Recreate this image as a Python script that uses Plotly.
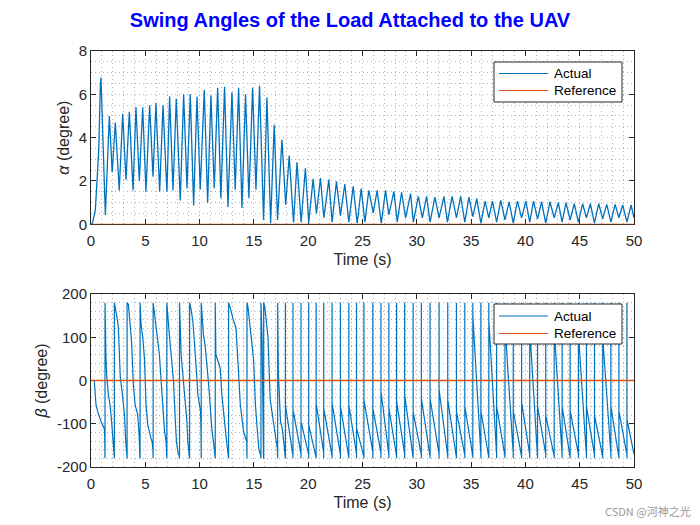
import plotly.graph_objects as go

# ---------------- data ----------------
# alpha (degree): start-up rise, then oscillation peaks / troughs
alpha_start_t = [0.0, 0.12, 0.40, 0.55, 0.71, 0.86]
alpha_start_v = [0.0, 0.03, 0.66, 1.75, 3.40, 6.40]

alpha_peak_t = [0.92, 1.69, 2.24, 2.92, 3.53, 4.14, 4.76, 5.40, 5.98, 6.63,
                7.24, 7.85, 8.53, 9.14, 9.76, 10.43, 11.04, 11.66, 12.30, 12.98,
                13.59, 14.23, 14.88, 15.52, 16.20, 16.87, 17.58, 18.25, 18.97, 19.74,
                20.45, 21.13, 21.90, 22.60, 23.37, 24.14, 24.88, 25.58, 26.35, 27.12,
                27.89, 28.60, 29.43, 30.14, 30.90, 31.67, 32.50, 33.25, 34.04, 34.80,
                35.52, 36.29, 36.97, 37.73, 38.50, 39.27, 40.04, 40.75, 41.49, 42.26,
                43.03, 43.74, 44.50, 45.27, 45.98, 46.75, 47.49, 48.26, 48.96, 49.73]
alpha_peak_v = [6.77, 5.00, 4.70, 5.10, 5.20, 5.40, 5.40, 5.50, 5.60, 5.50,
                5.90, 5.80, 6.00, 6.00, 5.90, 6.20, 5.95, 6.30, 6.35, 6.10,
                6.30, 6.00, 6.30, 6.40, 5.85, 4.60, 3.90, 3.17, 2.86, 2.59,
                2.10, 2.13, 2.06, 1.98, 1.86, 1.75, 1.65, 1.57, 1.57, 1.57,
                1.52, 1.48, 1.42, 1.29, 1.29, 1.25, 1.29, 1.29, 1.29, 1.25,
                1.19, 1.07, 1.07, 1.10, 1.04, 1.07, 1.07, 1.07, 1.04, 1.04,
                1.00, 1.00, 0.95, 0.95, 0.95, 0.95, 0.92, 0.92, 0.89, 0.89]

alpha_trough_t = [1.32, 1.95, 2.60, 3.22, 3.87, 4.45, 5.06, 5.71, 6.32, 6.99,
                  7.55, 8.22, 8.84, 9.45, 10.06, 10.74, 11.35, 11.96, 12.61, 13.28,
                  13.90, 14.54, 15.19, 15.89, 16.54, 17.18, 17.93, 18.65, 19.35, 20.05,
                  20.76, 21.44, 22.20, 22.97, 23.74, 24.51, 25.22, 25.99, 26.73, 27.43,
                  28.20, 28.97, 29.68, 30.51, 31.22, 32.05, 32.82, 33.65, 34.42, 35.16,
                  35.90, 36.63, 37.35, 38.12, 38.88, 39.65, 40.40, 41.12, 41.87, 42.65,
                  43.38, 44.12, 44.88, 45.62, 46.36, 47.12, 47.87, 48.61, 49.35, 50.00]
alpha_trough_v = [0.43, 2.40, 1.56, 2.06, 1.56, 2.00, 1.50, 2.20, 1.50, 1.50,
                  1.56, 1.10, 1.67, 0.87, 1.60, 1.00, 1.67, 1.20, 0.80, 1.60,
                  0.75, 1.20, 1.60, 0.20, 0.05, 0.20, 0.90, 0.08, 0.08, 0.08,
                  0.50, 0.30, 0.10, 0.40, 0.10, 0.05, 0.10, 0.53, 0.05, 0.45,
                  0.10, 0.30, 0.10, 0.30, 0.10, 0.30, 0.10, 0.30, 0.10, 0.35,
                  0.05, 0.30, 0.10, 0.20, 0.05, 0.30, 0.10, 0.25, 0.05, 0.30,
                  0.10, 0.20, 0.10, 0.30, 0.05, 0.25, 0.10, 0.30, 0.10, 0.30]

# beta (degree): first 18 s read point by point (wraps at +/-180 included)
beta_early_t = [0.00, 0.30, 0.37, 0.46, 0.62, 0.77, 0.92, 1.08, 1.25, 1.29, 1.29,
                1.38, 1.45, 1.60, 1.75, 1.90, 2.00, 2.12, 2.15, 2.15,
                2.25, 2.40, 2.52, 2.70, 2.86, 2.98, 3.08, 3.20, 3.30, 3.32, 3.32,
                3.44, 3.63, 3.75, 3.90, 4.06, 4.30, 4.43, 4.50, 4.52, 4.52,
                4.61, 4.77, 4.92, 5.07, 5.23, 5.53, 5.63, 5.70, 5.72, 5.72,
                5.84, 6.15, 6.30, 6.46, 6.61, 6.77, 6.92, 6.96, 6.98, 6.98,
                7.13, 7.29, 7.44, 7.60, 7.75, 7.87, 8.00, 8.12, 8.15, 8.15,
                8.30, 8.52, 8.67, 8.83, 8.92, 9.05, 9.08, 9.08,
                9.22, 9.38, 9.53, 9.69, 9.84, 10.00, 10.09, 10.13, 10.15, 10.15,
                10.20, 10.35, 10.50, 10.66, 10.81, 10.97, 11.12, 11.28, 11.42, 11.44, 11.44,
                11.50, 11.75, 11.90, 12.05, 12.20, 12.36, 12.52, 12.65, 12.67, 12.67,
                12.80, 13.10, 13.35, 13.44, 13.60, 13.75, 13.90, 14.05, 14.20, 14.34, 14.36, 14.36,
                14.45, 14.60, 14.83, 14.98, 15.14, 15.30, 15.45, 15.62, 15.65, 15.65,
                15.75, 15.88, 15.90, 15.90,
                16.00, 16.30, 16.50, 16.66, 16.82, 16.97, 17.16, 17.19, 17.19,
                17.25, 17.45, 17.60, 17.75, 17.88]
beta_early_v = [0, 0, -25, -56, -72, -87, -95, -103, -114, -180, 180,
                52, 10, -33, -56, -95, -138, -179, -180, 180,
                168, 145, 122, 6, -25, -48, -79, -141, -178, -180, 180,
                176, 122, 83, -10, -56, -79, -126, -179, -180, 180,
                130, 98, 52, -56, -103, -134, -142, -160, -180, 180,
                153, 98, 60, -2, -56, -118, -142, -170, -180, 180,
                122, 83, 44, -2, -87, -142, -165, -173, -180, 180,
                60, -2, -56, -95, -142, -179, -180, 180,
                164, 137, 91, 29, -33, -56, -72, -120, -180, 180,
                153, 106, 83, 44, -2, -56, -110, -142, -170, -180, 180,
                60, 40, 28, -33, -64, -110, -149, -179, -180, 180,
                170, 140, 122, 83, -2, -56, -87, -118, -130, -142, -180, 180,
                170, 140, 83, 44, -56, -110, -157, -173, -180, 180,
                100, -170, -180, 180,
                170, 100, -45, -72, -95, -126, -157, -180, 180,
                20, -95, -110, -142, -179]

# beta after 17.9 s: wrap instants, value just after the wrap, value before next wrap
beta_wrap_t = [17.90, 18.60, 19.34, 20.05, 20.73, 21.43, 22.20, 22.97, 23.74, 24.45,
               25.13, 25.95, 26.70, 27.43, 28.14, 28.88, 29.66, 30.42, 31.22, 32.05,
               32.85, 33.65, 34.42, 35.16, 35.90, 36.63, 37.35, 38.12, 38.88, 39.65,
               40.40, 41.12, 41.87, 42.65, 43.38, 44.12, 44.88, 45.62, 46.36, 47.12,
               47.87, 48.61, 49.35]
beta_knee_v = [-56, -67, -95, -103, -52, -64, -52, -60, -56, -110,
               -45, -64, -25, -64, -48, -33, -72, -41, -41, -21,
               -45, -72, -60, 150, -70, 140, -60, 130, -70, -50,
               120, -60, -80, 120, -60, -70, 110, -60, -80, 100,
               -60, -70, -90]
beta_end_v = [-175, -170, -172, -178, -168, -175, -172, -178, -170, -176,
              -165, -168, -172, -175, -170, -178, -172, -176, -170, -175,
              -178, -172, -175, -170, -178, -172, -175, -170, -176, -172,
              -178, -170, -175, -172, -178, -170, -175, -172, -176, -170,
              -178, -172, -170]
t_end = 50.0

x_tickvals = [0, 5, 10, 15, 20, 25, 30, 35, 40, 45, 50]
x_ticktext = ["0", "5", "10", "15", "20", "25", "30", "35", "40", "45", "50"]
a_tickvals = [0, 2, 4, 6, 8]
a_ticktext = ["0", "2", "4", "6", "8"]
b_tickvals = [-200, -100, 0, 100, 200]
b_ticktext = ["-200", "-100", "0", "100", "200"]
legend_labels = ["Actual", "Reference"]

# ---------------- build series ----------------
alpha_pts = list(zip(alpha_start_t, alpha_start_v)) + \
    list(zip(alpha_peak_t, alpha_peak_v)) + list(zip(alpha_trough_t, alpha_trough_v))
alpha_pts.sort(key=lambda p: p[0])
alpha_t = [p[0] for p in alpha_pts]
alpha_v = [p[1] for p in alpha_pts]

beta_t = list(beta_early_t)
beta_v = list(beta_early_v)
for i, tw in enumerate(beta_wrap_t):
    t_next = beta_wrap_t[i + 1] if i + 1 < len(beta_wrap_t) else t_end
    beta_t += [tw, tw, tw, t_next]
    beta_v += [-180, 180, beta_knee_v[i], beta_end_v[i]]

BLUE = "#0072BD"
ORANGE = "#D95319"
AX = "#262626"
FONT = "Liberation Sans, Arial, sans-serif"

fig = go.Figure()
fig.add_trace(go.Scatter(x=alpha_t, y=alpha_v, mode="lines", name=legend_labels[0],
                         line=dict(color=BLUE, width=1.3), xaxis="x", yaxis="y"))
fig.add_trace(go.Scatter(x=[0, t_end], y=[0, 0], mode="lines", name=legend_labels[1],
                         line=dict(color=ORANGE, width=1.3), xaxis="x", yaxis="y",
                         cliponaxis=False))
fig.add_trace(go.Scatter(x=beta_t, y=beta_v, mode="lines", name=legend_labels[0],
                         line=dict(color=BLUE, width=1.2), xaxis="x2", yaxis="y2"))
fig.add_trace(go.Scatter(x=[0, t_end], y=[0, 0], mode="lines", name=legend_labels[1],
                         line=dict(color=ORANGE, width=1.3), xaxis="x2", yaxis="y2"))

grid = dict(showgrid=True, gridcolor="#b2b2b2", griddash="1px,3px", gridwidth=1)
common = dict(showline=True, linecolor=AX, linewidth=1, mirror="ticks",
              ticks="inside", ticklen=5, tickcolor=AX, zeroline=False,
              tickfont=dict(family=FONT, size=15, color=AX), layer="below traces",
              **grid)
title_font = dict(family=FONT, size=16, color=AX)

# ---- legend boxes drawn in pixel positions of the reference ----
W, H = 700, 525
L, R, T, B = 91, 66, 51, 58
PW, PH = W - L - R, H - T - B


def px(x):
    return (x - L) / PW


def py(y):
    return (H - B - y) / PH


shapes = []
annotations = []
for (top, bot, rows) in [(62, 102, (73.5, 90.5)), (304, 344, (316, 333.5))]:
    shapes.append(dict(type="rect", xref="paper", yref="paper",
                       x0=px(494), x1=px(622), y0=py(bot), y1=py(top),
                       fillcolor="white", line=dict(color=AX, width=1), layer="above"))
    for color, label, yy in zip([BLUE, ORANGE], legend_labels, rows):
        shapes.append(dict(type="line", xref="paper", yref="paper",
                           x0=px(499), x1=px(548), y0=py(yy), y1=py(yy),
                           line=dict(color=color, width=1), layer="above"))
        annotations.append(dict(text=label, xref="paper", yref="paper",
                                x=px(552), y=py(yy), xanchor="left", yanchor="middle",
                                showarrow=False,
                                font=dict(family=FONT, size=13.5, color="#000000")))

annotations.append(dict(text="CSDN @河神之光", xref="paper", yref="paper",
                        x=px(693), y=py(511), xanchor="right", yanchor="middle",
                        showarrow=False,
                        font=dict(family="Noto Sans CJK SC, sans-serif", size=11,
                                  color="#9a9a9a")))

fig.update_layout(
    width=W, height=H,
    paper_bgcolor="white", plot_bgcolor="white",
    margin=dict(l=L, r=R, t=T, b=B),
    font=dict(family=FONT, color=AX),
    showlegend=False,
    title=dict(text="<b>Swing Angles of the Load Attached to the UAV</b>",
               x=0.5, xref="container", xanchor="center",
               y=1 - 20 / 525, yref="container", yanchor="middle",
               font=dict(family=FONT, size=20, color="#0000FF")),
    xaxis=dict(domain=[0, 1], range=[0, 50], anchor="y",
               tickvals=x_tickvals, ticktext=x_ticktext, ticklabelstandoff=3,
               minor=dict(dtick=1, ticks="", **grid),
               title=dict(text="Time (s)", font=title_font, standoff=5), **common),
    yaxis=dict(domain=[py(224.3), 1], range=[0, 8], anchor="x",
               tickvals=a_tickvals, ticktext=a_ticktext,
               minor=dict(dtick=0.5, ticks="", **grid),
               title=dict(text="<i>α</i> (degree)", font=title_font, standoff=5), **common),
    xaxis2=dict(domain=[0, 1], range=[0, 50], anchor="y2",
                tickvals=x_tickvals, ticktext=x_ticktext, ticklabelstandoff=3,
                minor=dict(dtick=1, ticks="", **grid),
                title=dict(text="Time (s)", font=title_font, standoff=5), **common),
    yaxis2=dict(domain=[0, py(294)], range=[-200, 200], anchor="x2",
                tickvals=b_tickvals, ticktext=b_ticktext,
                minor=dict(dtick=20, ticks="", **grid),
                title=dict(text="<i>β</i> (degree)", font=title_font, standoff=5), **common),
    shapes=shapes,
    annotations=annotations,
)

fig.write_html("out.html")
